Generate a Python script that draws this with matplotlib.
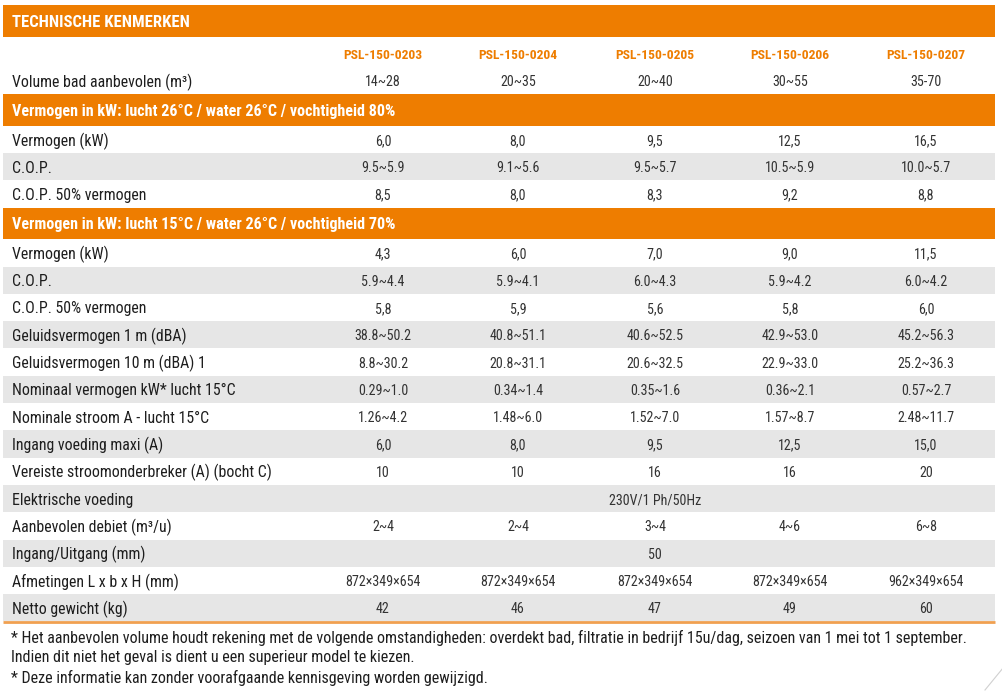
import matplotlib
matplotlib.use("Agg")
import matplotlib.pyplot as plt
from matplotlib import font_manager
from matplotlib.patches import Rectangle

# Table content
title = "TECHNISCHE KENMERKEN"
models = ["PSL-150-0203", "PSL-150-0204", "PSL-150-0205", "PSL-150-0206", "PSL-150-0207"]

volume_label = "Volume bad aanbevolen (m³)"
volume_values = ["14~28", "20~35", "20~40", "30~55", "35-70"]

section1_title = "Vermogen in kW: lucht 26°C / water 26°C / vochtigheid 80%"
section1_labels = ["Vermogen (kW)", "C.O.P.", "C.O.P. 50% vermogen"]
section1_values = [
    ["6,0", "8,0", "9,5", "12,5", "16,5"],
    ["9.5~5.9", "9.1~5.6", "9.5~5.7", "10.5~5.9", "10.0~5.7"],
    ["8,5", "8,0", "8,3", "9,2", "8,8"],
]

section2_title = "Vermogen in kW: lucht 15°C / water 26°C / vochtigheid 70%"
section2_labels = [
    "Vermogen (kW)",
    "C.O.P.",
    "C.O.P. 50% vermogen",
    "Geluidsvermogen 1 m (dBA)",
    "Geluidsvermogen 10 m (dBA) 1",
    "Nominaal vermogen kW* lucht 15°C",
    "Nominale stroom A - lucht 15°C",
    "Ingang voeding maxi (A)",
    "Vereiste stroomonderbreker (A) (bocht C)",
    "Elektrische voeding",
    "Aanbevolen debiet (m³/u)",
    "Ingang/Uitgang (mm)",
    "Afmetingen L x b x H (mm)",
    "Netto gewicht (kg)",
]
section2_values = [
    ["4,3", "6,0", "7,0", "9,0", "11,5"],
    ["5.9~4.4", "5.9~4.1", "6.0~4.3", "5.9~4.2", "6.0~4.2"],
    ["5,8", "5,9", "5,6", "5,8", "6,0"],
    ["38.8~50.2", "40.8~51.1", "40.6~52.5", "42.9~53.0", "45.2~56.3"],
    ["8.8~30.2", "20.8~31.1", "20.6~32.5", "22.9~33.0", "25.2~36.3"],
    ["0.29~1.0", "0.34~1.4", "0.35~1.6", "0.36~2.1", "0.57~2.7"],
    ["1.26~4.2", "1.48~6.0", "1.52~7.0", "1.57~8.7", "2.48~11.7"],
    ["6,0", "8,0", "9,5", "12,5", "15,0"],
    ["10", "10", "16", "16", "20"],
    ["", "", "230V/1 Ph/50Hz", "", ""],
    ["2~4", "2~4", "3~4", "4~6", "6~8"],
    ["", "", "50", "", ""],
    ["872×349×654", "872×349×654", "872×349×654", "872×349×654", "962×349×654"],
    ["42", "46", "47", "49", "60"],
]

footnotes = [
    "* Het aanbevolen volume houdt rekening met de volgende omstandigheden: overdekt bad, filtratie in bedrijf 15u/dag, seizoen van 1 mei tot 1 september.",
    "Indien dit niet het geval is dient u een superieur model te kiezen.",
    "* Deze informatie kan zonder voorafgaande kennisgeving worden gewijzigd.",
]

ORANGE = "#ee7d00"
GREY = "#e6e6e6"
TEXT = "#1e1e1e"

# pick a narrow face if one is installed
names = set(f.name for f in font_manager.fontManager.ttflist)
FONT = "DejaVu Sans"
for cand in ["Liberation Sans Narrow", "DejaVu Sans Condensed", "Roboto Condensed", "Open Sans Condensed"]:
    if cand in names:
        FONT = cand
        break
STRETCH = "condensed"

W, H = 1003, 692
fig = plt.figure(figsize=(W / 100, H / 100), dpi=100)
ax = fig.add_axes([0, 0, 1, 1])
ax.set_xlim(0, W)
ax.set_ylim(H, 0)
ax.axis("off")

left, right = 3, 995
label_x = 12
col_x = [383, 518, 655, 790, 926]
row_h = 27.3
band_h = 31.5
dy = 1.5  # nudge text a little lower, as in the original


def txt(x, y, s, size, color=TEXT, weight="normal", ha="left"):
    ax.text(x, y + dy, s, color=color, fontsize=size, fontweight=weight, family=FONT,
            fontstretch=STRETCH, va="center", ha=ha)


def band(y, text, h, size):
    ax.add_patch(Rectangle((left, y), right - left, h, color=ORANGE, lw=0))
    txt(label_x, y + h / 2, text, size, color="white", weight="bold")
    return y + h


def data_row(y, label, values, grey):
    if grey:
        ax.add_patch(Rectangle((left, y), right - left, row_h, color=GREY, lw=0))
    yc = y + row_h / 2
    txt(label_x, yc, label, 11.4)
    for x, v in zip(col_x, values):
        if v:
            txt(x, yc, v, 10.1, color="#333333", ha="center")
    return y + row_h


y = band(5, title, 32, 12)

# model header row
for x, m in zip(col_x, models):
    txt(x, y + 17, m, 9.7, color=ORANGE, weight="bold", ha="center")
y += 30
y = data_row(y, volume_label, volume_values, False)

y = band(y, section1_title, band_h, 11.6)
for i, (lab, vals) in enumerate(zip(section1_labels, section1_values)):
    y = data_row(y, lab, vals, i % 2 == 1)

y = band(y, section2_title, band_h, 11.6)
for i, (lab, vals) in enumerate(zip(section2_labels, section2_values)):
    y = data_row(y, lab, vals, i % 2 == 1)

ax.plot([left, right], [y + 1, y + 1], color="#f0a050", lw=2, solid_capstyle="butt")

for i, line in enumerate(footnotes):
    txt(label_x - 1, 636 + i * 20, line, 11.5)

# small decorative corner stroke
ax.plot([1003, 985], [668, 690], color="#d0d0d0", lw=0.8)

fig.savefig("out.png", dpi=100, facecolor="white")
